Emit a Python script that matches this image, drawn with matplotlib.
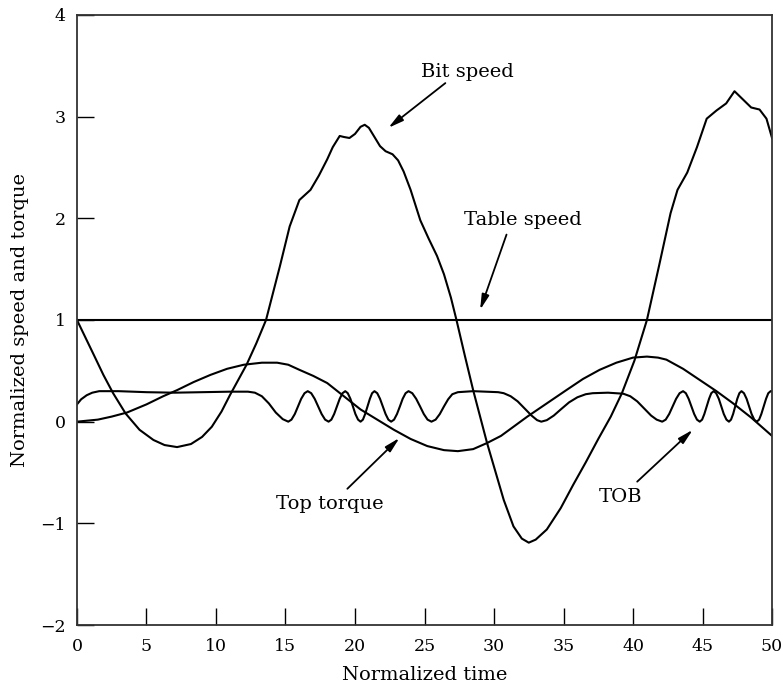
import matplotlib.pyplot as plt
import numpy as np

# values
table_t = [0, 50]
table_v = [1.0, 1.0]

bit_t = [0, 0.6, 1.2, 1.9, 2.6, 3.5, 4.5, 5.5, 6.3, 7.2, 8.2, 9.0, 9.7, 10.4, 11.0,
         11.6, 12.2, 12.9, 13.6, 14.6, 15.3, 16.0, 16.8, 17.4, 18.0, 18.4, 18.9,
         19.2, 19.6, 20.0, 20.4, 20.7, 21.0, 21.4, 21.8, 22.2, 22.7, 23.1, 23.5,
         24.0, 24.7, 25.3, 25.9, 26.4, 26.9, 27.3, 27.9, 28.5, 29.5, 30.7, 31.4,
         32.0, 32.5, 33.0, 33.8, 34.8, 35.7, 36.6, 37.5, 38.4, 39.2, 40.1, 41.0,
         41.9, 42.7, 43.2, 43.9, 44.6, 45.3, 46.0, 46.7, 47.3, 47.9, 48.5, 49.1,
         49.6, 50.0]
bit_v = [1.0, 0.83, 0.66, 0.46, 0.28, 0.08, -0.08, -0.18, -0.23, -0.25, -0.22,
         -0.15, -0.05, 0.10, 0.26, 0.41, 0.56, 0.77, 1.0, 1.53, 1.92, 2.18, 2.28,
         2.42, 2.58, 2.70, 2.81, 2.80, 2.79, 2.83, 2.90, 2.92, 2.89, 2.80, 2.71, 2.66,
         2.63, 2.57, 2.46, 2.28, 1.98, 1.80, 1.63, 1.45, 1.22, 1.0, 0.65, 0.31, -0.21,
         -0.77, -1.03, -1.15, -1.19, -1.16, -1.06, -0.85, -0.62, -0.40, -0.17, 0.05,
         0.28, 0.60, 1.0, 1.55, 2.05, 2.28, 2.45, 2.70, 2.98, 3.06, 3.13, 3.25, 3.17,
         3.09, 3.07, 2.98, 2.79]

torque_t = [0, 1.5, 2.5, 3.6, 5.0, 6.2, 7.2, 8.4, 9.6, 10.8, 12.0, 13.3, 14.4, 15.2,
            16.0, 17.0, 18.0, 19.2, 20.4, 21.6, 22.8, 24.0, 25.2, 26.4, 27.4, 28.5,
            29.5, 30.5, 31.5, 32.4, 33.8, 35.2, 36.4, 37.6, 38.8, 40.0, 41.0, 41.8,
            42.4, 43.6, 44.8, 46.0, 47.2, 48.5, 50.0]
torque_v = [0.0, 0.02, 0.05, 0.09, 0.17, 0.25, 0.31, 0.39, 0.46, 0.52, 0.56, 0.58,
            0.58, 0.56, 0.51, 0.45, 0.38, 0.25, 0.12, 0.02, -0.08, -0.17, -0.24, -0.28,
            -0.29, -0.27, -0.21, -0.14, -0.04, 0.05, 0.18, 0.31, 0.42, 0.51, 0.58, 0.63,
            0.64, 0.63, 0.61, 0.52, 0.41, 0.30, 0.18, 0.04, -0.14]

tob_t = [0, 0.3, 0.7, 1.1, 1.6, 3.0, 5.0, 7.0, 9.0, 11.0, 12.3, 12.8, 13.3, 13.8,
         14.3, 14.8, 15.2,
         15.43, 15.67, 15.9, 16.13, 16.37, 16.6,
         16.85, 17.1, 17.35, 17.6, 17.85, 18.1,
         18.3, 18.5, 18.7, 18.9, 19.1, 19.3,
         19.48, 19.67, 19.85, 20.03, 20.22, 20.4,
         20.57, 20.73, 20.9, 21.07, 21.23, 21.4,
         21.6, 21.8, 22.0, 22.2, 22.4, 22.6,
         22.81, 23.02, 23.23, 23.43, 23.64, 23.85,
         24.12, 24.4, 24.68, 24.95, 25.22, 25.5,
         25.8, 26.1, 26.4, 26.7, 27.0, 27.4, 28.5, 29.5, 30.3, 30.7,
         31.2, 31.7, 32.2, 32.7, 33.1, 33.4, 33.8, 34.3, 34.8, 35.4, 36.0, 36.6,
         37.1, 38.2, 39.3, 39.8, 40.3, 40.8, 41.3, 41.7, 42.1,
         42.35, 42.6, 42.85, 43.1, 43.35, 43.6,
         43.8, 44.0, 44.2, 44.4, 44.6, 44.8,
         44.97, 45.13, 45.3, 45.47, 45.63, 45.8,
         45.98, 46.17, 46.35, 46.53, 46.72, 46.9,
         47.05, 47.2, 47.35, 47.5, 47.65, 47.8,
         47.98, 48.17, 48.35, 48.53, 48.72, 48.9,
         49.07, 49.23, 49.4, 49.57, 49.73, 49.9, 50.0]
tob_v = [0.17, 0.22, 0.26, 0.285, 0.30, 0.30, 0.29, 0.285, 0.29, 0.295, 0.295,
         0.285, 0.25, 0.18, 0.09, 0.025, 0.0,
         0.02, 0.075, 0.15, 0.225, 0.28, 0.30,
         0.28, 0.225, 0.15, 0.075, 0.02, 0.0,
         0.02, 0.075, 0.15, 0.225, 0.28, 0.30,
         0.28, 0.225, 0.15, 0.075, 0.02, 0.0,
         0.02, 0.075, 0.15, 0.225, 0.28, 0.30,
         0.28, 0.225, 0.15, 0.075, 0.02, 0.0,
         0.02, 0.075, 0.15, 0.225, 0.28, 0.30,
         0.28, 0.225, 0.15, 0.075, 0.02, 0.0,
         0.02, 0.075, 0.15, 0.22, 0.27, 0.29, 0.30, 0.295, 0.29, 0.28,
         0.25, 0.20, 0.13, 0.06, 0.015, 0.0, 0.015, 0.06, 0.12, 0.19, 0.24, 0.27,
         0.28, 0.285, 0.275, 0.25, 0.20, 0.13, 0.06, 0.02, 0.0,
         0.02, 0.075, 0.15, 0.225, 0.28, 0.30,
         0.28, 0.225, 0.15, 0.075, 0.02, 0.0,
         0.02, 0.075, 0.15, 0.225, 0.28, 0.30,
         0.28, 0.225, 0.15, 0.075, 0.02, 0.0,
         0.02, 0.075, 0.15, 0.225, 0.28, 0.30,
         0.28, 0.225, 0.15, 0.075, 0.02, 0.0,
         0.02, 0.075, 0.15, 0.225, 0.28, 0.30, 0.30]

# label text, text position, arrow tail, arrow tip
labels = ['Bit speed', 'Table speed', 'Top torque', 'TOB']
label_xy = [(28.1, 3.44), (32.1, 1.98), (18.2, -0.81), (39.1, -0.74)]
arrow_tail = [(26.5, 3.33), (30.9, 1.84), (19.45, -0.66), (40.3, -0.59)]
arrow_tip = [(22.4, 2.89), (29.0, 1.10), (23.2, -0.16), (44.3, -0.08)]

plt.rcParams['font.family'] = 'DejaVu Serif'

fig = plt.figure(figsize=(7.83, 6.93), dpi=100)
ax = fig.add_axes([0.0983, 0.0981, 0.8877, 0.8803])

lw = 1.5
ax.plot(table_t, table_v, color='black', lw=lw)
ax.plot(bit_t, bit_v, color='black', lw=lw)
ax.plot(torque_t, torque_v, color='black', lw=lw)
ax.plot(tob_t, tob_v, color='black', lw=lw)

for lab, pos, tail, tip in zip(labels, label_xy, arrow_tail, arrow_tip):
    ax.text(pos[0], pos[1], lab, ha='center', va='center', fontsize=14)
    ax.annotate('', xy=tip, xytext=tail,
                arrowprops=dict(arrowstyle='-|>,head_length=0.9,head_width=0.22',
                                color='black', lw=1.3, shrinkA=0, shrinkB=0))

ax.set_xlim(0, 50)
ax.set_ylim(-2, 4)
ax.set_xticks(np.arange(0, 51, 5))
ax.set_yticks(np.arange(-2, 5, 1))
ax.tick_params(direction='in', length=12, width=1, labelsize=12.5)
ax.tick_params(axis='x', pad=9)
ax.tick_params(axis='y', pad=8)
for s in ax.spines.values():
    s.set_color('#333333')
    s.set_linewidth(1.3)

ax.set_xlabel('Normalized time', fontsize=14, labelpad=8)
ax.set_ylabel('Normalized speed and torque', fontsize=14, labelpad=8)

fig.savefig('out.png', dpi=100)
